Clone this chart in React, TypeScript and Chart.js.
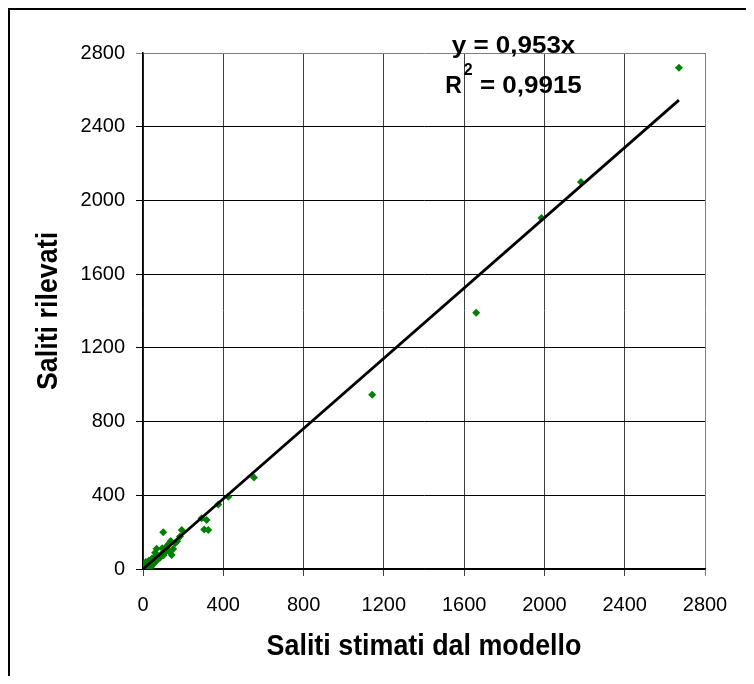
import React, { useEffect, useRef } from "react";
import { Chart, registerables } from "chart.js";

Chart.register(...registerables);

// Saliti stimati dal modello (x) vs Saliti rilevati (y)
const STIMATI = [
  2670, 2182, 1985, 1660, 1142, 553, 425, 375, 292, 317, 325, 305, 193, 184, 101, 143,
  150, 160, 138, 122, 130, 112, 68, 92, 80, 96, 60, 58, 50, 44, 40, 34, 30, 26, 20, 16,
  10, 8, 5, 3, 12, 22, 55, 66, 76, 86, 102, 116, 128, 170, 40, 28,
  15, 6, 18, 35, 48, 25, 62, 9, 4, 14,
];
const RILEVATI = [
  2720, 2100, 1905, 1390, 945, 497, 392, 350, 276, 266, 212, 214, 212, 176, 200, 76,
  108, 140, 152, 128, 98, 92, 110, 80, 66, 112, 88, 58, 44, 56, 30, 40, 20, 32, 14, 24,
  8, 4, 10, 2, 18, 8, 30, 46, 54, 62, 74, 118, 136, 150, 12, 45,
  3, 16, 30, 22, 25, 5, 70, 28, 20, 38,
];

const SLOPE = 0.953;
const EQ_LINE1 = "y = 0,953x";
const EQ_R = "R";
const EQ_SUP = "2";
const EQ_R2_VALUE = " = 0,9915";
const EQ_X = 1846;
const EQ_Y1 = 2800;
const EQ_Y2 = 2583;

const AXIS_MIN = 0;
const AXIS_MAX = 2800;
const AXIS_STEP = 400;

const X_TITLE = "Saliti stimati dal modello";
const Y_TITLE = "Saliti rilevati";

const EQ_FONT = 'bold 23px "Liberation Sans", Arial, sans-serif';
const SUP_FONT = 'bold 16px "Liberation Sans", Arial, sans-serif';
const EQ_STRETCH = 1.13;

const overlayPlugin = {
  id: "overlayText",
  afterDraw(chart: any) {
    const { ctx, chartArea, scales } = chart;
    ctx.save();
    ctx.fillStyle = "#000";

    // axis titles
    ctx.font = 'bold 29px "Liberation Sans", Arial, sans-serif';
    ctx.textAlign = "center";
    ctx.textBaseline = "middle";
    const cx = (chartArea.left + chartArea.right) / 2;
    const cy = (chartArea.top + chartArea.bottom) / 2;
    ctx.save();
    ctx.translate(cx, chartArea.bottom + 78);
    ctx.scale(0.926, 1);
    ctx.fillText(X_TITLE, 0, 0);
    ctx.restore();

    ctx.save();
    ctx.translate(chartArea.left - 94, cy);
    ctx.rotate(-Math.PI / 2);
    ctx.scale(0.926, 1);
    ctx.fillText(Y_TITLE, 0, 0);
    ctx.restore();

    // regression equation
    const ex = scales.x.getPixelForValue(EQ_X);
    const ey1 = scales.y.getPixelForValue(EQ_Y1);
    const ey2 = scales.y.getPixelForValue(EQ_Y2);
    ctx.textBaseline = "alphabetic";

    ctx.save();
    ctx.translate(ex, ey1);
    ctx.scale(EQ_STRETCH, 1);
    ctx.font = EQ_FONT;
    ctx.textAlign = "center";
    ctx.fillText(EQ_LINE1, 0, 0);
    ctx.restore();

    ctx.save();
    ctx.font = EQ_FONT;
    ctx.textAlign = "left";
    const wR = ctx.measureText(EQ_R).width;
    const wV = ctx.measureText(EQ_R2_VALUE).width * EQ_STRETCH;
    ctx.font = SUP_FONT;
    const wS = ctx.measureText(EQ_SUP).width;
    const total = wR + 2 + wS + wV;
    const x0 = ex - total / 2;
    ctx.font = EQ_FONT;
    ctx.fillText(EQ_R, x0, ey2);
    ctx.font = SUP_FONT;
    ctx.fillText(EQ_SUP, x0 + wR + 2, ey2 - 18);
    ctx.translate(x0 + wR + 2 + wS, ey2);
    ctx.scale(EQ_STRETCH, 1);
    ctx.font = EQ_FONT;
    ctx.fillText(EQ_R2_VALUE, 0, 0);
    ctx.restore();

    ctx.restore();
  },
};

export default function App() {
  const ref = useRef<HTMLCanvasElement | null>(null);

  useEffect(() => {
    if (!ref.current) return;
    const points = STIMATI.map((x, i) => ({ x, y: RILEVATI[i] }));
    const xMax = Math.max(...STIMATI);
    const trend = [
      { x: 0, y: 0 },
      { x: xMax, y: SLOPE * xMax },
    ];
    const gridColor = (c: any) => (c.tick && c.tick.value === AXIS_MAX ? "#808080" : "#000000");
    const xGridColor = (c: any) => (c.tick && c.tick.value === AXIS_MAX ? "#808080" : "#404040");
    const tickFont = { family: '"Liberation Sans", Arial, sans-serif', size: 20 };
    const fmt = (v: any) => String(v);

    const chart = new Chart(ref.current, {
      type: "scatter",
      data: {
        datasets: [
          {
            label: "Lineare",
            data: trend,
            showLine: true,
            borderColor: "#000000",
            borderWidth: 2.8,
            pointRadius: 0,
            pointHoverRadius: 0,
            fill: false,
          } as any,
          {
            label: "Saliti",
            data: points,
            pointStyle: "rectRot",
            pointRadius: 4,
            pointBackgroundColor: "#008000",
            pointBorderColor: "#008000",
            pointBorderWidth: 0,
            showLine: false,
          } as any,
        ],
      },
      options: {
        responsive: false,
        animation: false,
        devicePixelRatio: 1,
        layout: { padding: { left: 0, right: 41, top: 43, bottom: 0 } },
        plugins: {
          legend: { display: false },
          tooltip: { enabled: false },
          title: { display: false },
        },
        scales: {
          x: {
            type: "linear",
            min: AXIS_MIN,
            max: AXIS_MAX,
            ticks: { stepSize: AXIS_STEP, color: "#000", font: tickFont, padding: 17, maxRotation: 0, callback: fmt },
            grid: { color: xGridColor, lineWidth: 1, tickLength: 7, drawTicks: true },
            border: { display: true, color: "#000", width: 1.5 },
            afterFit: (s: any) => {
              s.height = 107;
            },
          },
          y: {
            type: "linear",
            min: AXIS_MIN,
            max: AXIS_MAX,
            ticks: { stepSize: AXIS_STEP, color: "#000", font: tickFont, padding: 11, callback: fmt },
            grid: { color: gridColor, lineWidth: 1, tickLength: 7, drawTicks: true },
            border: { display: true, color: "#000", width: 1.5 },
            afterFit: (s: any) => {
              s.width = 133;
            },
          },
        },
      } as any,
      plugins: [overlayPlugin],
    });
    return () => chart.destroy();
  }, []);

  return (
    <div
      style={{
        width: 738,
        height: 668,
        boxSizing: "border-box",
        borderLeft: "2px solid #000",
        borderTop: "2px solid #000",
        background: "#fff",
      }}
    >
      <canvas ref={ref} width={736} height={666} style={{ display: "block" }} />
    </div>
  );
}
